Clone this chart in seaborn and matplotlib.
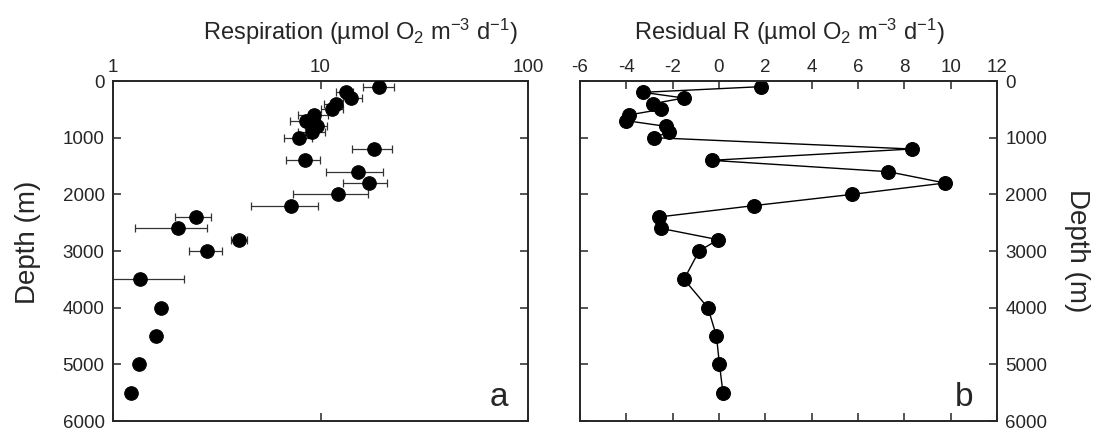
import matplotlib
matplotlib.use("Agg")
import matplotlib.pyplot as plt
from matplotlib.ticker import FixedLocator, NullLocator, FixedFormatter
import numpy as np
import pandas as pd
import seaborn as sns

# depth of each sample (m)
depth = [100, 200, 300, 400, 500, 600, 700, 800, 900, 1000, 1200, 1400, 1600, 1800,
         2000, 2200, 2400, 2600, 2800, 3000, 3500, 4000, 4500, 5000, 5500]

# panel a: respiration with error bar bounds
resp = [19.2, 13.2, 14.1, 11.9, 11.4, 9.3, 8.5, 9.6, 9.1, 7.85, 18.1, 8.4, 15.2, 17.1,
        12.1, 7.2, 2.5, 2.05, 4.05, 2.85, 1.35, 1.70, 1.61, 1.33, 1.22]
resp_lo = [16.0, 11.9, 12.9, 10.4, 10.1, 7.8, 7.1, 8.4, 7.8, 6.65, 14.2, 6.8, 10.6, 12.9,
           7.4, 4.65, 2.0, 1.27, 3.72, 2.32, 0.8, np.nan, np.nan, np.nan, np.nan]
resp_hi = [22.6, 14.4, 15.8, 12.7, 12.9, 10.9, 9.95, 10.8, 10.5, 9.07, 22.1, 9.9, 19.9, 21.0,
           17.0, 9.76, 2.97, 2.84, 4.42, 3.36, 2.21, np.nan, np.nan, np.nan, np.nan]

# panel b: residual respiration
resid = [1.81, -3.28, -1.52, -2.85, -2.49, -3.90, -4.0, -2.30, -2.16, -2.81, 8.31, -0.32,
         7.30, 9.75, 5.76, 1.49, -2.60, -2.52, -0.04, -0.86, -1.51, -0.48, -0.11, 0.02, 0.17]

xticks_a = [1, 10, 100]
xticks_b = [-6, -4, -2, 0, 2, 4, 6, 8, 10, 12]
yticks = [0, 1000, 2000, 3000, 4000, 5000, 6000]

df = pd.DataFrame({"depth": depth, "resp": resp, "lo": resp_lo, "hi": resp_hi, "resid": resid})

sns.set_style("ticks")
plt.rcParams["font.family"] = ["Liberation Sans", "DejaVu Sans"]
plt.rcParams["mathtext.fontset"] = "custom"
plt.rcParams["mathtext.rm"] = "Liberation Sans"
plt.rcParams["mathtext.default"] = "rm"
plt.rcParams["axes.unicode_minus"] = False

fig = plt.figure(figsize=(10.93, 4.32), dpi=100)
ax1 = fig.add_axes([113 / 1093, 1 - 421 / 432, 415 / 1093, 340 / 432])
ax2 = fig.add_axes([580 / 1093, 1 - 421 / 432, 417 / 1093, 340 / 432])

# panel a
eb = df.dropna()
ax1.errorbar(eb["resp"], eb["depth"], xerr=[eb["resp"] - eb["lo"], eb["hi"] - eb["resp"]],
             fmt="none", ecolor="#333333", elinewidth=0.9, capsize=2.6, capthick=0.9, zorder=2)
sns.scatterplot(data=df, x="resp", y="depth", ax=ax1, color="black", edgecolor="black",
                s=95, zorder=3, legend=False)
ax1.set_xscale("log")
ax1.set_xlim(1, 100)
ax1.xaxis.set_major_locator(FixedLocator(xticks_a))
ax1.xaxis.set_major_formatter(FixedFormatter([str(t) for t in xticks_a]))
ax1.xaxis.set_minor_locator(NullLocator())
ax1.set_ylim(6000, 0)
ax1.set_yticks(yticks)
ax1.tick_params(axis="both", direction="in", length=6, width=1.1, labelsize=13.5,
                top=True, bottom=True, left=True, right=True,
                labeltop=True, labelbottom=False, labelleft=True, labelright=False)
ax1.tick_params(axis="y", pad=6)
ax1.set_xlabel("")
ax1.set_ylabel("")
ax1.text(0.93, 0.07, "a", transform=ax1.transAxes, fontsize=24, ha="center", va="center")

# panel b
sns.lineplot(data=df, x="resid", y="depth", ax=ax2, orient="y", sort=False, color="black",
             linewidth=1.0, marker="o", markersize=10, markeredgecolor="black", legend=False)
ax2.set_xlim(-6, 12)
ax2.set_xticks(xticks_b)
ax2.set_ylim(6000, 0)
ax2.set_yticks(yticks)
ax2.tick_params(axis="both", direction="in", length=6, width=1.1, labelsize=13.5,
                top=True, bottom=True, left=True, right=True,
                labeltop=True, labelbottom=False, labelleft=False, labelright=True)
ax2.tick_params(axis="y", pad=6)
ax2.set_xlabel("")
ax2.set_ylabel("")
ax2.text(0.92, 0.07, "b", transform=ax2.transAxes, fontsize=24, ha="center", va="center")

for ax in (ax1, ax2):
    for sp in ax.spines.values():
        sp.set_linewidth(1.4)
        sp.set_visible(True)

fig.text(28 / 1093, 1 - 242 / 432, "Depth (m)", fontsize=20, rotation=90,
         ha="center", va="center")
fig.text(1077 / 1093, 1 - 251 / 432, "Depth (m)", fontsize=20, rotation=270,
         ha="center", va="center")

fig.text(360 / 1093, 1 - 32 / 432, r"Respiration (µmol O$_2$ m$^{-3}$ d$^{-1}$)",
         fontsize=17, ha="center", va="center")
fig.text(789 / 1093, 1 - 32 / 432, r"Residual R (µmol O$_2$ m$^{-3}$ d$^{-1}$)",
         fontsize=17, ha="center", va="center")

fig.savefig("out.png", dpi=100)
